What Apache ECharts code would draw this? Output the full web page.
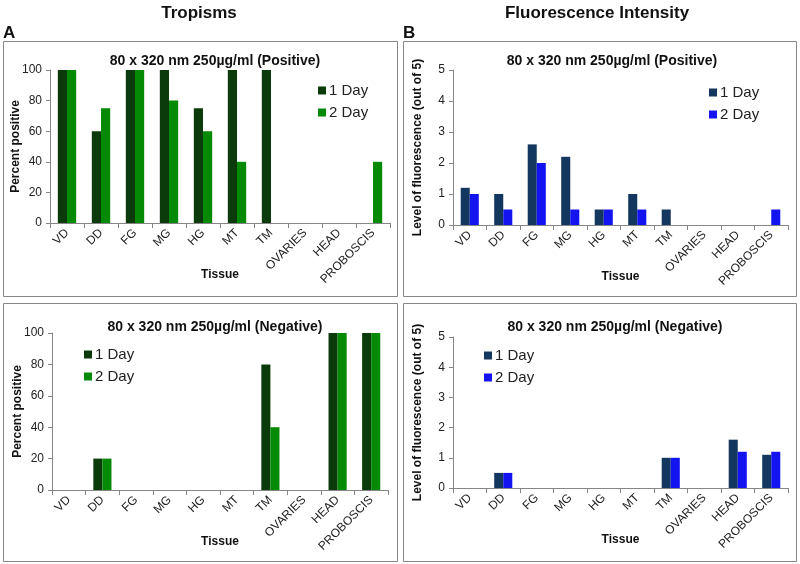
<!DOCTYPE html>
<html><head><meta charset="utf-8">
<script src="https://cdn.jsdelivr.net/npm/echarts@6/dist/echarts.min.js"></script>
<style>html,body{margin:0;padding:0;background:#fff}#c{width:800px;height:564px}</style>
</head><body><div id="c"></div>
<script>
const categories = ['VD','DD','FG','MG','HG','MT','TM','OVARIES','HEAD','PROBOSCIS'];
const seriesNames = ['1 Day','2 Day'];
const tropPos1 = [100,60,100,100,75,100,100,0,0,0];
const tropPos2 = [100,75,100,80,60,40,0,0,0,40];
const tropNeg1 = [0,20,0,0,0,0,80,0,100,100];
const tropNeg2 = [0,20,0,0,0,0,40,0,100,100];
const fluPos1 = [1.2,1,2.6,2.2,0.5,1,0.5,0,0,0];
const fluPos2 = [1,0.5,2,0.5,0.5,0.5,0,0,0,0.5];
const fluNeg1 = [0,0.5,0,0,0,0,1,0,1.6,1.1];
const fluNeg2 = [0,0.5,0,0,0,0,1,0,1.2,1.2];
const panelTitles = ['80 x 320 nm 250µg/ml (Positive)','80 x 320 nm 250µg/ml (Positive)','80 x 320 nm 250µg/ml (Negative)','80 x 320 nm 250µg/ml (Negative)'];
const yNames = ['Percent positive','Level of fluorescence (out of 5)'];

const green1 = '#0b3a0b', green2 = '#058a05', blue1 = '#14375f', blue2 = '#1414f0';
const FONT = 'Arial, "Liberation Sans", sans-serif';
const axisGray = '#868686';
const headFont = 'bold 17px "Liberation Sans Narrow", "Liberation Sans", Arial';

const grids = [
  {left:50, top:70, width:340, height:153},
  {left:453, top:70, width:335, height:155},
  {left:52, top:333, width:336, height:157},
  {left:453, top:337, width:335, height:151}
];
const yCfg = [
  {max:100, interval:20, name:yNames[0], gap:28},
  {max:5, interval:1, name:yNames[1], gap:29},
  {max:100, interval:20, name:yNames[0], gap:28},
  {max:5, interval:1, name:yNames[1], gap:29}
];
const data = [[tropPos1,tropPos2],[fluPos1,fluPos2],[tropNeg1,tropNeg2],[fluNeg1,fluNeg2]];
const colors = [[green1,green2],[blue1,blue2],[green1,green2],[blue1,blue2]];
const legendPos = [{left:313,top:78},{left:704,top:80},{left:79,top:342},{left:479,top:343}];
const titlePos = [{x:210,y:49},{x:607,y:49},{x:210,y:315},{x:610,y:315}];

const option = {
  animation:false,
  backgroundColor:'#fff',
  graphic:[
    {type:'rect', shape:{x:3.5,y:41.5,width:394,height:255}, style:{fill:'none',stroke:axisGray,lineWidth:1}},
    {type:'rect', shape:{x:403.5,y:41.5,width:393,height:255}, style:{fill:'none',stroke:axisGray,lineWidth:1}},
    {type:'rect', shape:{x:3.5,y:303.5,width:394,height:258}, style:{fill:'none',stroke:axisGray,lineWidth:1}},
    {type:'rect', shape:{x:403.5,y:303.5,width:393,height:258}, style:{fill:'none',stroke:axisGray,lineWidth:1}},
    {type:'text', style:{text:'Tropisms', font:headFont, fill:'#111', textAlign:'center'}, x:199, y:5},
    {type:'text', style:{text:'Fluorescence Intensity', font:headFont, fill:'#111', textAlign:'center'}, x:597, y:5},
    {type:'text', style:{text:'A', font:headFont, fill:'#111'}, x:3, y:25},
    {type:'text', style:{text:'B', font:headFont, fill:'#111'}, x:403, y:25}
  ],
  title: titlePos.map((p,i)=>({text:panelTitles[i], left:p.x, top:p.y, textAlign:'center',
    textStyle:{fontFamily:FONT, fontSize:14, fontWeight:'bold', color:'#111'}})),
  legend: legendPos.map((p,i)=>({
    left:p.left, top:p.top, orient:'vertical', itemWidth:8, itemHeight:8, itemGap:7,
    icon:'rect', data: seriesNames.map((n)=>({name:n+'#'+i})),
    formatter:(n)=>n.split('#')[0],
    textStyle:{fontFamily:FONT, fontSize:15, color:'#222', padding:[0,0,0,-2]},
    selectedMode:false
  })),
  grid: grids,
  xAxis: grids.map((g,i)=>({
    type:'category', gridIndex:i, data:categories,
    name:'Tissue', nameLocation:'middle', nameGap:46, nameMoveOverlap:false,
    nameTextStyle:{fontFamily:FONT, fontSize:12, fontWeight:'bold', color:'#111'},
    axisLine:{lineStyle:{color:axisGray}},
    axisTick:{show:true, length:5, lineStyle:{color:axisGray}, alignWithLabel:false},
    axisLabel:{rotate:45, fontFamily:FONT, fontSize:12, color:'#222', margin:8, interval:0}
  })),
  yAxis: yCfg.map((c,i)=>({
    type:'value', gridIndex:i, min:0, max:c.max, interval:c.interval,
    name:c.name, nameLocation:'middle', nameGap:c.gap, nameRotate:90, nameMoveOverlap:false,
    nameTextStyle:{fontFamily:FONT, fontSize:12, fontWeight:'bold', color:'#111'},
    axisLine:{show:true, lineStyle:{color:axisGray}},
    axisTick:{show:true, length:4, lineStyle:{color:axisGray}},
    splitLine:{show:false},
    axisLabel:{fontFamily:FONT, fontSize:12, color:'#222', margin:8}
  })),
  series: []
};
data.forEach((pair,i)=>{
  pair.forEach((vals,j)=>{
    option.series.push({
      type:'bar', name:seriesNames[j]+'#'+i, xAxisIndex:i, yAxisIndex:i,
      data:vals, barGap:'0%', barCategoryGap:'46%',
      itemStyle:{color:colors[i][j]}
    });
  });
});
const chart = echarts.init(document.getElementById('c'), null, {renderer:'canvas'});
chart.setOption(option);
</script></body></html>
